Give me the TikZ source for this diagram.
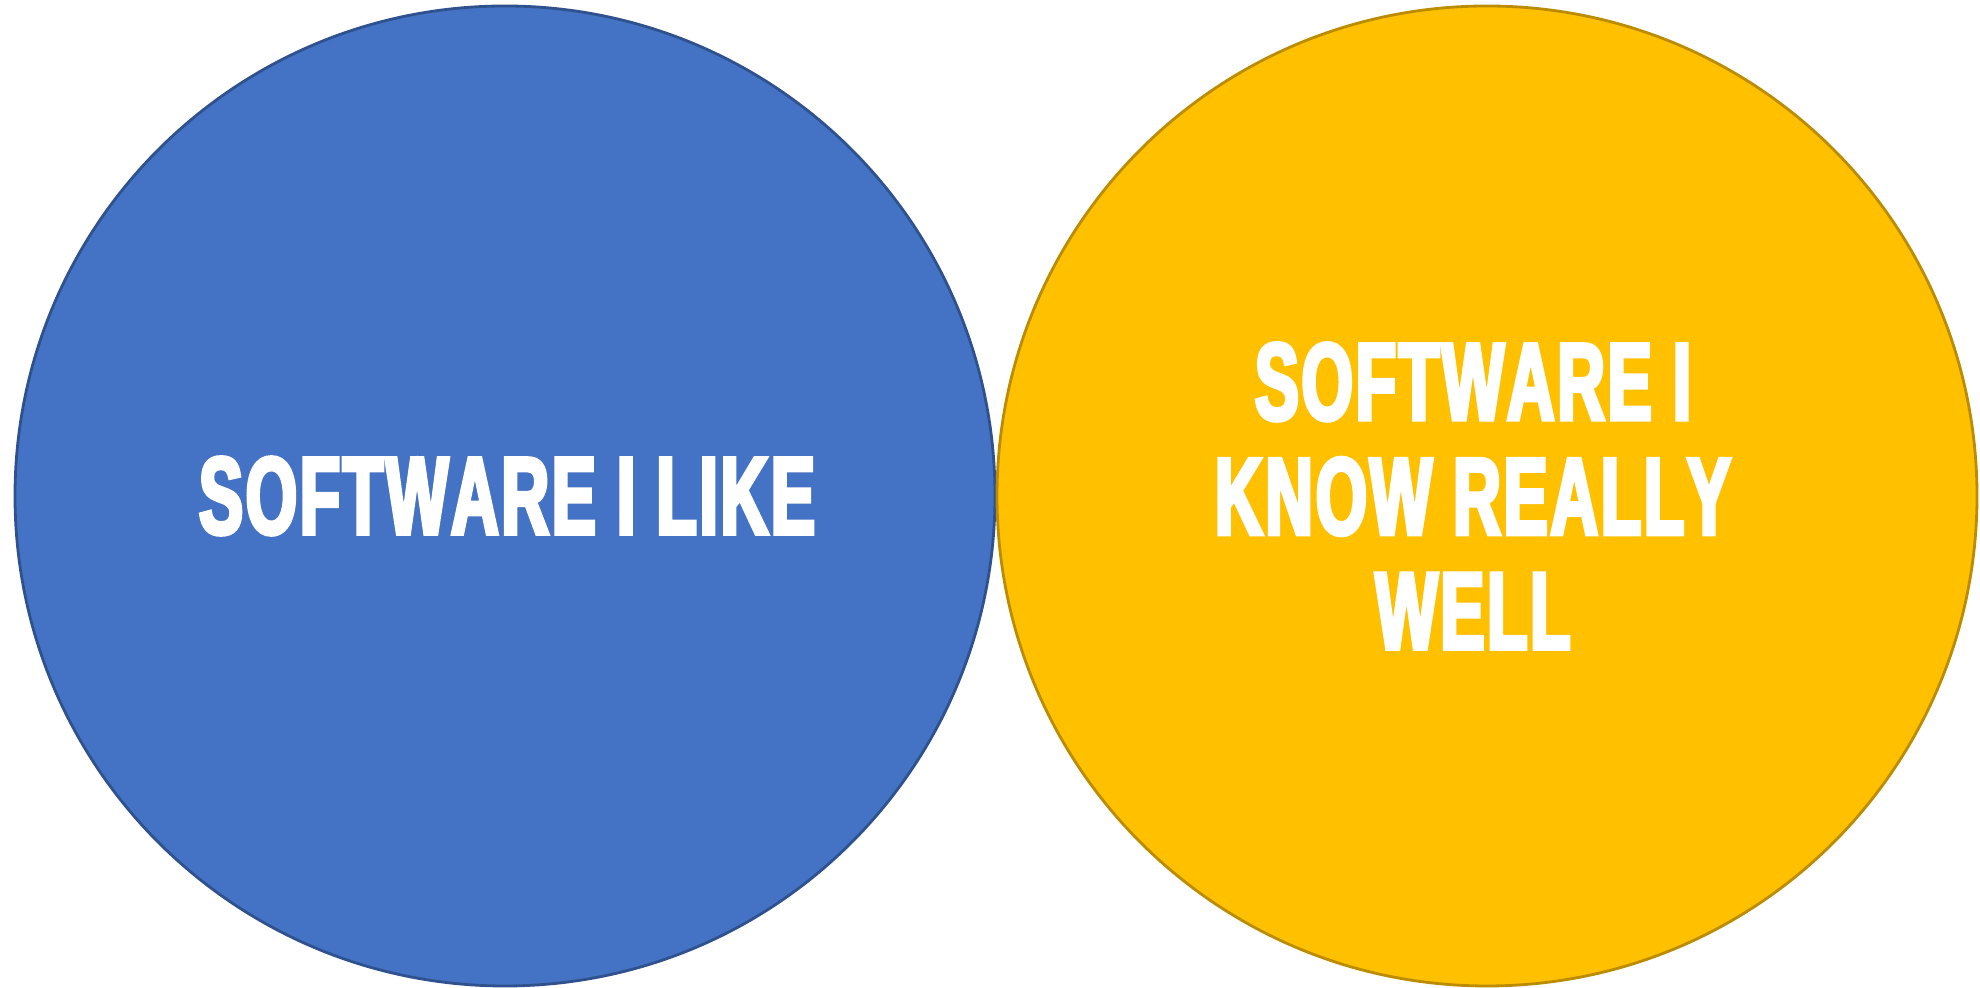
\documentclass[tikz,border=0pt]{standalone}
\usepackage{fontspec}
\newfontfamily\vennfont{Liberation Sans}[FakeStretch=0.6,FakeBold=3.5,LetterSpace=2.5,Kerning=Off]
\usetikzlibrary{positioning}
\colorlet{blx}{white}
\definecolor{blu}{HTML}{4472C4}
\definecolor{bluline}{HTML}{2F528F}
\definecolor{yel}{HTML}{FFC000}
\definecolor{yelline}{HTML}{BC8C00}
\tikzset{
    venn/.style={circle,fill,inner sep=0pt,minimum size=9.8cm,line width=0.8pt},
    vlabel/.style={blx,align=center,inner sep=0pt,
        font=\vennfont\bfseries\fontsize{31.3}{32.6}\selectfont}
}

\begin{document}
\begin{tikzpicture}
            \useasboundingbox (0,0) rectangle (19.8,9.88);
            \node [venn,fill=blu,draw=bluline] (like) at (5.05,4.92) {};
            \node [venn,fill=yel,draw=yelline] (know) at (14.87,4.92) {};
            \node [vlabel] (liketext) at ([xshift=0.2mm]like.center) {SOFTWARE I LIKE};
            \node [vlabel] (knowtext) at ([xshift=-1.4mm]know.center)
                {SOFTWARE I\\KNOW REALLY\\WELL};
        \end{tikzpicture}
\end{document}
